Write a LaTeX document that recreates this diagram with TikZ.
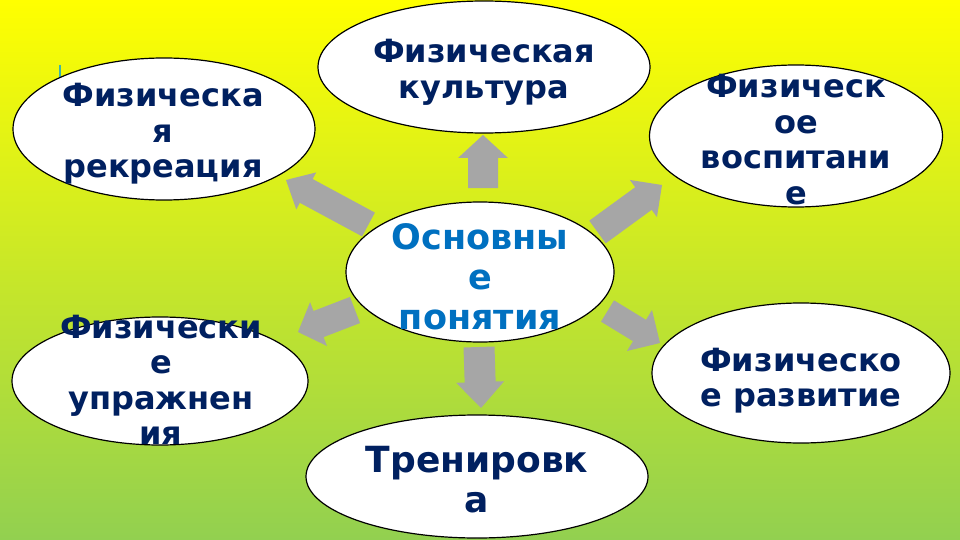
\documentclass[tikz,border=0pt]{standalone}
\usepackage{fontspec}
\setmainfont{DejaVu Sans}
\usetikzlibrary{shapes.geometric,calc}
\definecolor{navy}{RGB}{0,32,96}
\definecolor{cblue}{RGB}{0,112,192}
\definecolor{agray}{RGB}{166,166,166}
\definecolor{bgtop}{RGB}{255,255,0}
\definecolor{bgbot}{RGB}{146,208,80}
\definecolor{curteal}{RGB}{60,180,170}
% block arrow: #1 tail, #2 tip, #3 shaft half width, #4 head half width, #5 head length
\newcommand{\blockarr}[5]{%
  \coordinate (hb) at ($(#2)!#5!(#1)$);
  \fill[agray] ($(#1)!#3!90:(#2)$) -- ($(hb)!#3!90:(#2)$) -- ($(hb)!#4!90:(#2)$) -- (#2)
    -- ($(hb)!#4!-90:(#2)$) -- ($(hb)!#3!-90:(#2)$) -- ($(#1)!#3!-90:(#2)$) -- cycle;}
\begin{document}
\begin{tikzpicture}[x=1pt,y=-1pt,
  oval/.style={ellipse, draw=black, line width=1.2pt, fill=white, inner sep=0pt},
  lbl/.style={align=center, text=navy, inner sep=0pt, font=\bfseries\fontsize{32}{35.5}\selectfont},
  big/.style={font=\bfseries\fontsize{36}{40}\selectfont},
  mid/.style={font=\bfseries\fontsize{35}{40}\selectfont}]
\useasboundingbox (0,0) rectangle (960,540);
\shade[top color=bgtop, bottom color=bgbot] (0,0) rectangle (960,540);
\draw[curteal, line width=1.5pt] (60,65) -- (60,77);

% arrow end points
\coordinate (upA) at (483,188);   \coordinate (upB) at (483,135);
\coordinate (ulA) at (368.5,224.5); \coordinate (ulB) at (286,180);
\coordinate (urA) at (597.5,232); \coordinate (urB) at (662,185);
\coordinate (dlA) at (355,310);   \coordinate (dlB) at (298,332);
\coordinate (drA) at (607.5,311); \coordinate (drB) at (660,343);
\coordinate (dnA) at (479,347);   \coordinate (dnB) at (481,408);

\blockarr{upA}{upB}{15pt}{25pt}{23pt}
\blockarr{ulA}{ulB}{13.5pt}{21pt}{23pt}
\blockarr{urA}{urB}{14pt}{23pt}{23pt}
\blockarr{dlA}{dlB}{14pt}{23.5pt}{22pt}
\blockarr{drA}{drB}{12.5pt}{24pt}{24pt}
\blockarr{dnA}{dnB}{15.5pt}{24pt}{26pt}

% ellipses
\node[oval, minimum width=332pt, minimum height=132pt] (t) at (484,67) {};
\node[oval, minimum width=302pt, minimum height=142pt] (lt) at (164,129) {};
\node[oval, minimum width=293pt, minimum height=142pt] (rt) at (796,136) {};
\node[oval, minimum width=268pt, minimum height=140pt] (c) at (480,272) {};
\node[oval, minimum width=296pt, minimum height=128pt] (lb) at (160,381) {};
\node[oval, minimum width=298pt, minimum height=140pt] (rb) at (801,373) {};
\node[oval, minimum width=342pt, minimum height=123pt] (b) at (477,476.5) {};

% texts
\node[lbl] (tT) at (484,72.5) {Физическая\\культура};
\node[lbl] (ltT) at (163,134) {Физическа\\я\\рекреация};
\node[lbl] (rtT) at (796,139.5) {Физическ\\ое\\воспитани\\е};
\node[lbl] (lbT) at (161,380) {Физически\\е\\упражнен\\ия};
\node[lbl] (rbT) at (801,380.5) {Физическо\\е развитие};
\node[lbl, big] (bT) at (477,480) {Тренировк\\а};
\node[lbl, mid, text=cblue] (cT) at (480,277) {Основны\\е\\понятия};
\end{tikzpicture}
\end{document}
